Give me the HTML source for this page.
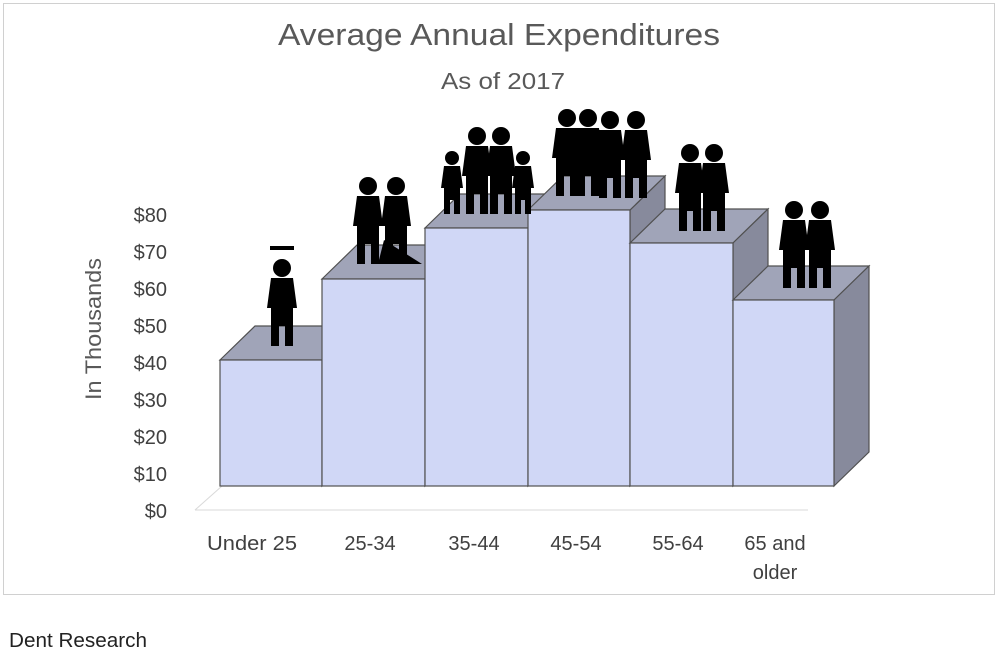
<!DOCTYPE html>
<html><head><meta charset="utf-8"><style>
body{margin:0;background:#fff;width:1001px;height:658px;overflow:hidden;font-family:"Liberation Sans",sans-serif}
</style></head><body>
<svg width="1001" height="658" xmlns="http://www.w3.org/2000/svg" font-family="Liberation Sans, sans-serif">
<defs>
<g id="p"><circle cx="0" cy="-52" r="9"/><path d="M-11,-42 h22 l4,30 h-4 v38 h-8 v-20 h-6 v20 h-8 v-38 h-4 z"/></g>
<g id="k"><circle cx="0" cy="-38" r="7"/><path d="M-8,-30 h16 l3,22 h-3 v26 h-6 v-14 h-4 v14 h-6 v-26 h-3 z"/></g>
</defs>
<rect x="3.5" y="3.5" width="991" height="591" fill="#fff" stroke="#d0d0d0"/>
<text x="499" y="45" font-size="31" fill="#595959" text-anchor="middle" textLength="442" lengthAdjust="spacingAndGlyphs">Average Annual Expenditures</text>
<text x="503" y="89" font-size="23" fill="#595959" text-anchor="middle" textLength="124" lengthAdjust="spacingAndGlyphs">As of 2017</text>
<text transform="translate(101,329) rotate(-90)" font-size="22" fill="#595959" text-anchor="middle" textLength="142" lengthAdjust="spacingAndGlyphs">In Thousands</text>
<g font-size="20" fill="#404040" text-anchor="end">
<text x="167" y="222">$80</text><text x="167" y="259">$70</text><text x="167" y="296">$60</text>
<text x="167" y="333">$50</text><text x="167" y="370">$40</text><text x="167" y="407">$30</text>
<text x="167" y="444">$20</text><text x="167" y="481">$10</text><text x="167" y="518">$0</text>
</g>
<line x1="195" y1="510" x2="808" y2="510" stroke="#d9d9d9"/>
<line x1="195" y1="510" x2="222" y2="486" stroke="#d9d9d9"/>
<g stroke="#505050" stroke-width="1.2">
<polygon points="220,360 255,326 357,326 322,360" fill="#a0a4b8"/>
<polygon points="322,360 357,326 357,452 322,486" fill="#878a9c"/>
<rect x="220" y="360" width="102" height="126" fill="#d0d7f6"/>

<polygon points="322,279 357,245 460,245 425,279" fill="#a0a4b8"/>
<polygon points="425,279 460,245 460,452 425,486" fill="#878a9c"/>
<rect x="322" y="279" width="103" height="207" fill="#d0d7f6"/>

<polygon points="425,228 460,194 563,194 528,228" fill="#a0a4b8"/>
<polygon points="528,228 563,194 563,452 528,486" fill="#878a9c"/>
<rect x="425" y="228" width="103" height="258" fill="#d0d7f6"/>

<polygon points="630,210 665,176 665,452 630,486" fill="#878a9c"/>
<polygon points="528,210 563,176 665,176 630,210" fill="#a0a4b8"/>
<rect x="528" y="210" width="102" height="276" fill="#d0d7f6"/>

<polygon points="630,243 665,209 768,209 733,243" fill="#a0a4b8"/>
<polygon points="733,243 768,209 768,452 733,486" fill="#878a9c"/>
<rect x="630" y="243" width="103" height="243" fill="#d0d7f6"/>

<polygon points="733,300 768,266 869,266 834,300" fill="#a0a4b8"/>
<polygon points="834,300 869,266 869,452 834,486" fill="#878a9c"/>
<rect x="733" y="300" width="101" height="186" fill="#d0d7f6"/>
</g>
<g fill="#000">
<use href="#p" x="282" y="320"/><rect x="270" y="246" width="24" height="4"/>
<use href="#p" x="368" y="238"/><use href="#p" x="396" y="238"/><path d="M384,240 l-6,24 h44 z"/>
<use href="#k" x="452" y="196"/><use href="#p" x="477" y="188"/><use href="#p" x="501" y="188"/><use href="#k" x="523" y="196"/>
<use href="#p" x="567" y="170"/><use href="#p" x="588" y="170"/><use href="#p" x="610" y="172"/><use href="#p" x="636" y="172"/>
<use href="#p" x="690" y="205"/><use href="#p" x="714" y="205"/>
<use href="#p" x="794" y="262"/><use href="#p" x="820" y="262"/>
</g>
<g font-size="20" fill="#404040" text-anchor="middle">
<text x="252" y="550" textLength="90" lengthAdjust="spacingAndGlyphs">Under 25</text><text x="370" y="550">25-34</text><text x="474" y="550">35-44</text>
<text x="576" y="550">45-54</text><text x="678" y="550">55-64</text>
<text x="775" y="550">65 and</text><text x="775" y="579">older</text>
</g>
<text x="9" y="647" font-size="20" fill="#222" textLength="138" lengthAdjust="spacingAndGlyphs">Dent Research</text>
</svg>
</body></html>
